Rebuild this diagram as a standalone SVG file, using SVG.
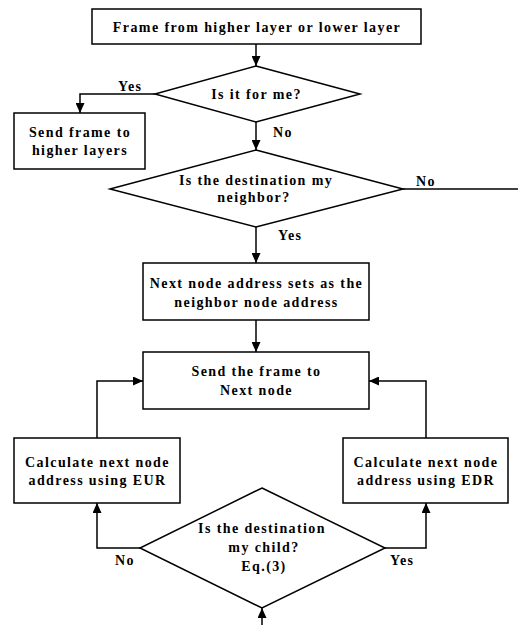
<svg xmlns="http://www.w3.org/2000/svg" width="518" height="625" viewBox="0 0 518 625">
<style>
.box{fill:#fff;stroke:#000;stroke-width:1.5}
.t{font-family:"Liberation Serif","Times New Roman",serif;font-weight:bold;font-size:14px;letter-spacing:1.4px;fill:#000}
.m{text-anchor:middle}
.c{fill:none;stroke:#000;stroke-width:1.5}
</style>
<defs>
<marker id="ah" markerUnits="userSpaceOnUse" markerWidth="10" markerHeight="9" refX="10" refY="4.5" orient="auto">
<path d="M0,0 L10,4.5 L0,9 Z" fill="#000"/>
</marker>
</defs>
<rect width="518" height="625" fill="#fff"/>
<g id="connectors">
<path class="c" d="M256,44 V66" marker-end="url(#ah)"/>
<path class="c" d="M155,94 H80 V113" marker-end="url(#ah)"/>
<path class="c" d="M256,122 V150" marker-end="url(#ah)"/>
<path class="c" d="M403,189 H518"/>
<path class="c" d="M256,227 V263" marker-end="url(#ah)"/>
<path class="c" d="M256,320 V352" marker-end="url(#ah)"/>
<path class="c" d="M97,438 V381 H143" marker-end="url(#ah)"/>
<path class="c" d="M426,438 V381 H369" marker-end="url(#ah)"/>
<path class="c" d="M140,548 H97 V503" marker-end="url(#ah)"/>
<path class="c" d="M385,548 H426 V503" marker-end="url(#ah)"/>
<path class="c" d="M262,625 V608" marker-end="url(#ah)"/>
<text class="t" x="118" y="91">Yes</text>
<text class="t" x="273" y="137">No</text>
<text class="t" x="416" y="186">No</text>
<text class="t" x="278" y="240">Yes</text>
<text class="t" x="115" y="565">No</text>
<text class="t" x="390" y="565">Yes</text>
</g>
<g id="start">
<rect class="box" x="92" y="9" width="329" height="35"/>
<text class="t m" x="257" y="32">Frame from higher layer or lower layer</text>
</g>
<g id="forme">
<polygon class="box" points="256,66 360,94 256,122 155,94"/>
<text class="t m" x="256.5" y="99">Is it for me?</text>
</g>
<g id="higher">
<rect class="box" x="14" y="113" width="131" height="56"/>
<text class="t m" x="80" y="137">Send frame to</text>
<text class="t m" x="80" y="155">higher layers</text>
</g>
<g id="neighbor">
<polygon class="box" points="256,150 403,189 256,227 110,189"/>
<text class="t m" x="256" y="185">Is the destination my</text>
<text class="t m" x="254" y="202">neighbor?</text>
</g>
<g id="setnext">
<rect class="box" x="143" y="263" width="226" height="57"/>
<text class="t m" x="256.5" y="288">Next node address sets as the</text>
<text class="t m" x="256.5" y="307">neighbor node address</text>
</g>
<g id="send">
<rect class="box" x="143" y="352" width="226" height="57"/>
<text class="t m" x="256.5" y="376">Send the frame to</text>
<text class="t m" x="256.5" y="395">Next node</text>
</g>
<g id="eur">
<rect class="box" x="14" y="438" width="166" height="65"/>
<text class="t m" x="97.5" y="467">Calculate next node</text>
<text class="t m" x="97.5" y="485">address using EUR</text>
</g>
<g id="edr">
<rect class="box" x="343" y="438" width="165" height="65"/>
<text class="t m" x="426" y="467">Calculate next node</text>
<text class="t m" x="426" y="485">address using EDR</text>
</g>
<g id="child">
<polygon class="box" points="262,488 385,548 262,608 140,548"/>
<text class="t m" x="262" y="533">Is the destination</text>
<text class="t m" x="264" y="552">my child?</text>
<text class="t m" x="264" y="571">Eq.(3)</text>
</g>
</svg>
